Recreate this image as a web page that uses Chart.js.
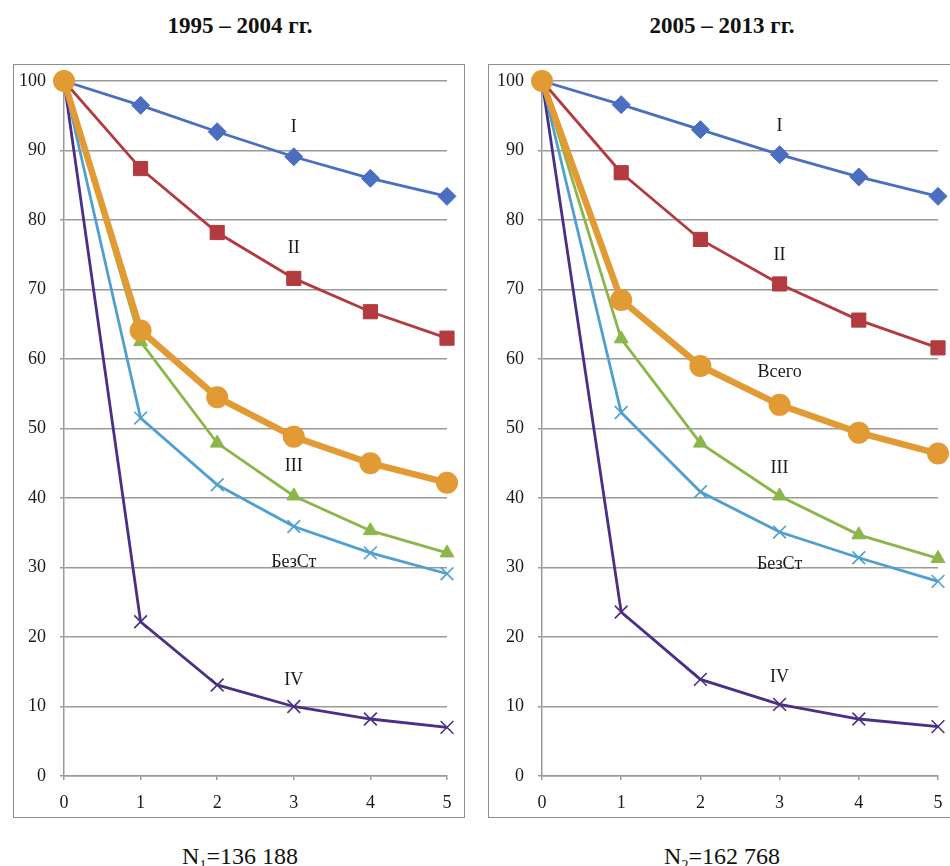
<!DOCTYPE html>
<html>
<head>
<meta charset="utf-8">
<script src="https://cdn.jsdelivr.net/npm/chart.js@4/dist/chart.umd.min.js"></script>
<style>
  body { margin: 0; width: 950px; height: 866px; overflow: hidden; background: #fff; font-family: "Liberation Serif", "DejaVu Serif", serif; }
  .title { position: absolute; top: 12px; width: 300px; text-align: center; font-weight: bold; font-size: 23px; line-height: 28px; color: #111; }
  .nlabel { position: absolute; top: 842px; width: 300px; text-align: center; font-size: 24px; line-height: 28px; color: #111; }
  .nlabel sub { font-size: 14px; }
  .frame { position: absolute; top: 64px; height: 754px; border: 1px solid #8f8f8f; box-sizing: border-box; }
  .frame canvas { display: block; }
</style>
</head>
<body>
<div class="title" style="left:90px">1995 – 2004 гг.</div>
<div class="title" style="left:572px">2005 – 2013 гг.</div>
<div class="frame" id="leftFrame" style="left:13px; width:452px"><canvas id="leftChart"></canvas></div>
<div class="frame" id="rightFrame" style="left:488px; width:472px"><canvas id="rightChart"></canvas></div>
<div class="nlabel" style="left:90px">N<sub>1</sub>=136 188</div>
<div class="nlabel" style="left:572px">N<sub>2</sub>=162 768</div>

<script>
// x axis: years after diagnosis
const steps = [0, 1, 2, 3, 4, 5];
const yTicks = [0, 10, 20, 30, 40, 50, 60, 70, 80, 90, 100];

// 1995 - 2004
const left_I      = [100, 96.5, 92.7, 89.1, 86.0, 83.4];
const left_II     = [100, 87.4, 78.2, 71.6, 66.8, 63.0];
const left_III    = [100, 62.5, 47.9, 40.3, 35.3, 32.1];
const left_BezSt  = [100, 51.5, 41.9, 35.9, 32.1, 29.1];
const left_IV     = [100, 22.2, 13.1, 10.0, 8.2, 7.0];
const left_Total  = [100, 64.1, 54.5, 48.8, 45.0, 42.2];

// 2005 - 2013
const right_I     = [100, 96.6, 93.0, 89.4, 86.2, 83.4];
const right_II    = [100, 86.8, 77.2, 70.8, 65.6, 61.6];
const right_III   = [100, 62.9, 47.9, 40.3, 34.7, 31.3];
const right_BezSt = [100, 52.3, 40.9, 35.1, 31.4, 28.0];
const right_IV    = [100, 23.6, 13.9, 10.3, 8.2, 7.1];
const right_Total = [100, 68.5, 59.0, 53.4, 49.4, 46.4];

// series labels placed at x = 3 (value on y axis)
const leftLabels  = [["I", 93.3], ["II", 75.9], ["III", 44.6], ["БезСт", 30.8], ["IV", 13.8]];
const rightLabels = [["I", 93.5], ["II", 74.9], ["Всего", 58.1], ["III", 44.3], ["БезСт", 30.4], ["IV", 14.2]];

const colors = {
    I: "#4a6fc0",
    II: "#b33a3f",
    III: "#8ab64a",
    BezSt: "#4f9fd0",
    IV: "#4b2f86",
    Total: "#e29a35"
};

const tickFont = { family: "'Liberation Serif', serif", size: 18 };

function toPoints(arr) {
    return arr.map((v, i) => ({ x: steps[i], y: v }));
}

function makeDatasets(I, II, III, bez, IV, total) {
    const thin = (label, data, color, style, r) => ({
        label: label,
        data: toPoints(data),
        borderColor: color,
        backgroundColor: color,
        borderWidth: 2.8,
        pointStyle: style,
        pointRadius: r,
        pointBorderWidth: style === "crossRot" ? 1.6 : 1,
        pointBorderColor: color,
        tension: 0,
        order: 2
    });
    return [
        thin("I", I, colors.I, "rectRot", 9),
        thin("II", II, colors.II, "rect", 10),
        thin("III", III, colors.III, "triangle", 8),
        thin("БезСт", bez, colors.BezSt, "crossRot", 9),
        thin("IV", IV, colors.IV, "crossRot", 9),
        {
            label: "Всего",
            data: toPoints(total),
            borderColor: colors.Total,
            backgroundColor: colors.Total,
            borderWidth: 6.5,
            pointStyle: "circle",
            pointRadius: 11,
            pointBorderWidth: 0,
            order: 1
        }
    ];
}

const seriesLabelPlugin = {
    id: "seriesLabels",
    afterDatasetsDraw(chart, args, opts) {
        const c = chart.ctx;
        c.save();
        c.font = "18px 'Liberation Serif', serif";
        c.fillStyle = "#1a1a1a";
        c.textAlign = "center";
        c.textBaseline = "middle";
        opts.items.forEach(([text, v]) => {
            c.fillText(text, chart.scales.x.getPixelForValue(3), chart.scales.y.getPixelForValue(v));
        });
        c.restore();
    }
};

function buildChart(id, datasets, labels, yWidth, padRight) {
    const ctx = document.getElementById(id).getContext("2d");
    return new Chart(ctx, {
        type: "line",
        data: { datasets: datasets },
        options: {
            responsive: true,
            maintainAspectRatio: false,
            animation: false,
            layout: { padding: { top: 16, right: padRight, left: 0, bottom: 0 } },
            datasets: { line: { clip: false } },
            elements: { point: { hoverRadius: 0 } },
            plugins: {
                legend: { display: false },
                tooltip: { enabled: false },
                seriesLabels: { items: labels }
            },
            scales: {
                x: {
                    type: "linear",
                    min: 0,
                    max: 5,
                    afterBuildTicks: axis => { axis.ticks = steps.map(v => ({ value: v })); },
                    afterFit: axis => { axis.height = 41; axis.paddingLeft = 0; axis.paddingRight = 0; },
                    grid: { display: true, drawOnChartArea: false, drawTicks: true, tickLength: 4, color: "#9a9a9a", lineWidth: 1.5 },
                    border: { display: true, color: "#9a9a9a", width: 1.5 },
                    ticks: { padding: 12, color: "#1a1a1a", font: tickFont }
                },
                y: {
                    min: 0,
                    max: 100,
                    afterBuildTicks: axis => { axis.ticks = yTicks.map(v => ({ value: v })); },
                    afterFit: axis => { axis.width = yWidth; axis.paddingTop = 0; axis.paddingBottom = 0; },
                    grid: { color: "#9a9a9a", lineWidth: 1.5, drawTicks: true, tickLength: 4 },
                    border: { display: true, color: "#9a9a9a", width: 1.5 },
                    ticks: { padding: 14, color: "#1a1a1a", font: tickFont }
                }
            }
        },
        plugins: [seriesLabelPlugin]
    });
}

buildChart("leftChart",
    makeDatasets(left_I, left_II, left_III, left_BezSt, left_IV, left_Total),
    leftLabels, 50, 17);
buildChart("rightChart",
    makeDatasets(right_I, right_II, right_III, right_BezSt, right_IV, right_Total),
    rightLabels, 53, 21);
</script>
</body>
</html>
